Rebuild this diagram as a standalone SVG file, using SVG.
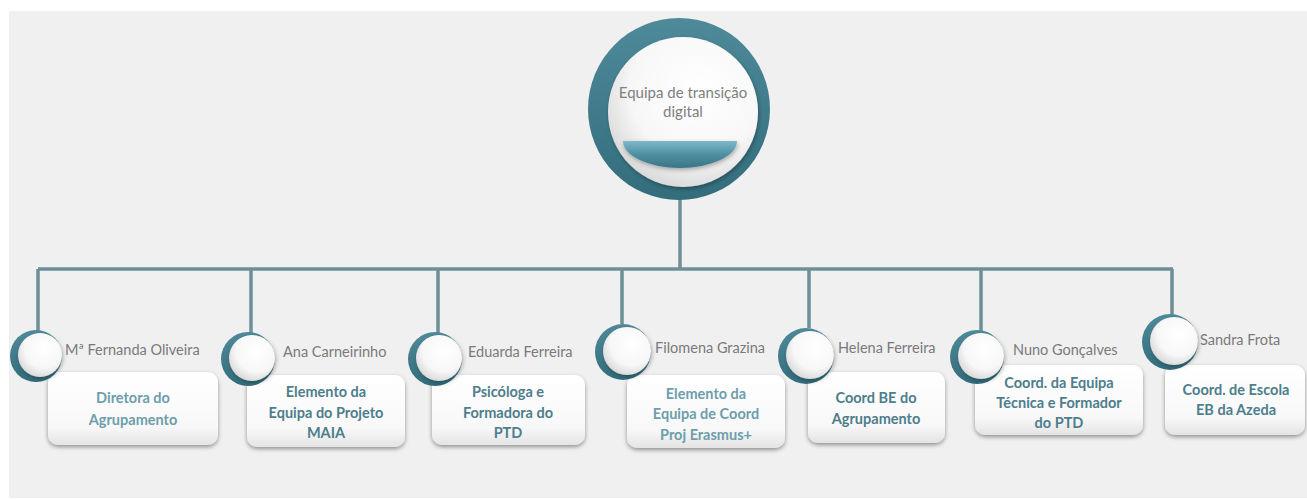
<svg xmlns="http://www.w3.org/2000/svg" width="1307" height="499" viewBox="0 0 1307 499">
  <defs>
    <linearGradient id="ringGrad" x1="0" y1="0" x2="0" y2="1">
      <stop offset="0" stop-color="#4f8a9a"/>
      <stop offset="1" stop-color="#336d7c"/>
    </linearGradient>
    <radialGradient id="discGrad" cx="0.6" cy="0.35" r="0.75">
      <stop offset="0" stop-color="#ffffff"/>
      <stop offset="0.6" stop-color="#f7f7f7"/>
      <stop offset="1" stop-color="#d0d0d0"/>
    </radialGradient>
    <linearGradient id="bowlGrad" x1="0" y1="0" x2="0" y2="1">
      <stop offset="0" stop-color="#7db8c9"/>
      <stop offset="0.5" stop-color="#4f8fa2"/>
      <stop offset="1" stop-color="#3a7586"/>
    </linearGradient>
    <linearGradient id="boxGrad" x1="0" y1="0" x2="0" y2="1">
      <stop offset="0" stop-color="#ffffff"/>
      <stop offset="0.75" stop-color="#f8f8f8"/>
      <stop offset="1" stop-color="#e4e4e4"/>
    </linearGradient>
    <filter id="shadow" x="-20%" y="-20%" width="140%" height="150%">
      <feDropShadow dx="0" dy="2" stdDeviation="2" flood-color="#000" flood-opacity="0.4"/>
    </filter>
    <filter id="softShadow" x="-20%" y="-20%" width="140%" height="150%">
      <feDropShadow dx="1" dy="2" stdDeviation="2" flood-color="#000" flood-opacity="0.3"/>
    </filter>
  </defs>
  <style>
    .conn { stroke: #6e8f97; stroke-width: 3.5; fill: none; }
    .ring { fill: url(#ringGrad); }
    .disc { fill: url(#discGrad); filter: url(#softShadow); }
    .box { fill: url(#boxGrad); filter: url(#shadow); }
    .name { font-family: Lato, "Liberation Sans", sans-serif; font-size: 14.5px; fill: #7a7a7a; }
    .role { font-family: Lato, "Liberation Sans", sans-serif; font-size: 14.5px; font-weight: bold; fill: #4d7e8c; text-anchor: middle; }
    .light { fill: #6e9dac; }
    .title { font-family: Lato, "Liberation Sans", sans-serif; font-size: 15px; fill: #7f7f7f; text-anchor: middle; }
  </style>

  <rect x="9" y="11" width="1298" height="487" fill="#f0f0f0"/>

  <g id="connectors">
    <line class="conn" x1="680" y1="198" x2="680" y2="269"/>
    <line class="conn" x1="38" y1="269" x2="1173" y2="269"/>
    <line class="conn" x1="38" y1="269" x2="38" y2="331"/>
    <line class="conn" x1="251" y1="269" x2="251" y2="333"/>
    <line class="conn" x1="438" y1="269" x2="438" y2="333"/>
    <line class="conn" x1="622" y1="269" x2="622" y2="324"/>
    <line class="conn" x1="809" y1="269" x2="809" y2="328"/>
    <line class="conn" x1="981" y1="269" x2="981" y2="333"/>
    <line class="conn" x1="1172" y1="269" x2="1172" y2="316"/>
  </g>

  <g id="root">
    <circle cx="679" cy="109" r="91" class="ring"/>
    <circle cx="683" cy="112" r="75" class="disc"/>
    <path d="M623,141 L737,141 A57,27 0 0 1 623,141 Z" fill="url(#bowlGrad)" filter="url(#softShadow)"/>
    <text class="title" x="683" y="98">Equipa de transição</text>
    <text class="title" x="683" y="117">digital</text>
  </g>

  <g id="node-fernanda">
    <rect class="box" x="48" y="372" width="170" height="73" rx="10"/>
    <circle cx="36" cy="356" r="26" class="ring"/>
    <circle cx="40" cy="355" r="22" class="disc"/>
    <text class="name" x="65" y="355">Mª Fernanda Oliveira</text>
    <text class="role light" x="133" y="403">Diretora do</text>
    <text class="role light" x="133" y="425">Agrupamento</text>
  </g>

  <g id="node-ana">
    <rect class="box" x="247" y="375" width="158" height="72" rx="10"/>
    <circle cx="248" cy="359" r="27" class="ring"/>
    <circle cx="252" cy="358" r="23" class="disc"/>
    <text class="name" x="283" y="357">Ana Carneirinho</text>
    <text class="role" x="326" y="397">Elemento da</text>
    <text class="role" x="326" y="418">Equipa do Projeto</text>
    <text class="role" x="326" y="438">MAIA</text>
  </g>

  <g id="node-eduarda">
    <rect class="box" x="432" y="375" width="153" height="70" rx="10"/>
    <circle cx="435" cy="359" r="27" class="ring"/>
    <circle cx="439" cy="358" r="23" class="disc"/>
    <text class="name" x="468" y="357">Eduarda Ferreira</text>
    <text class="role" x="508" y="397">Psicóloga e</text>
    <text class="role" x="508" y="418">Formadora do</text>
    <text class="role" x="508" y="438">PTD</text>
  </g>

  <g id="node-filomena">
    <rect class="box" x="627" y="375" width="158" height="73" rx="10"/>
    <circle cx="623" cy="352" r="28" class="ring"/>
    <circle cx="627" cy="351" r="24" class="disc"/>
    <text class="name" x="655" y="353">Filomena Grazina</text>
    <text class="role light" x="706" y="399">Elemento da</text>
    <text class="role light" x="706" y="419">Equipa de Coord</text>
    <text class="role light" x="706" y="440">Proj Erasmus+</text>
  </g>

  <g id="node-helena">
    <rect class="box" x="808" y="372" width="137" height="71" rx="10"/>
    <circle cx="806" cy="356" r="28" class="ring"/>
    <circle cx="810" cy="355" r="24" class="disc"/>
    <text class="name" x="838" y="353">Helena Ferreira</text>
    <text class="role" x="876" y="403">Coord BE do</text>
    <text class="role" x="876" y="424">Agrupamento</text>
  </g>

  <g id="node-nuno">
    <rect class="box" x="975" y="365" width="168" height="70" rx="10"/>
    <circle cx="977" cy="357" r="27" class="ring"/>
    <circle cx="981" cy="356" r="23" class="disc"/>
    <text class="name" x="1013" y="355">Nuno Gonçalves</text>
    <text class="role" x="1059" y="388">Coord. da Equipa</text>
    <text class="role" x="1059" y="408">Técnica e Formador</text>
    <text class="role" x="1059" y="428">do PTD</text>
  </g>

  <g id="node-sandra">
    <rect class="box" x="1165" y="365" width="140" height="70" rx="10"/>
    <circle cx="1170" cy="342" r="28" class="ring"/>
    <circle cx="1174" cy="341" r="24" class="disc"/>
    <text class="name" x="1200" y="345">Sandra Frota</text>
    <text class="role" x="1236" y="395">Coord. de Escola</text>
    <text class="role" x="1236" y="415">EB da Azeda</text>
  </g>
</svg>
